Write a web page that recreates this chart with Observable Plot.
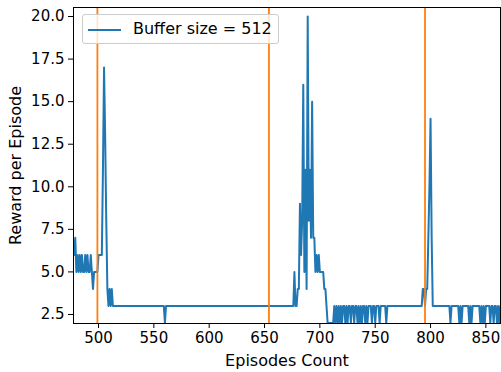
<!DOCTYPE html>
<html>
<head>
<meta charset="utf-8">
<script src="https://cdn.jsdelivr.net/npm/d3@7"></script>
<script src="https://cdn.jsdelivr.net/npm/@observablehq/plot@0.6"></script>
<style>
  html, body { margin: 0; padding: 0; background: #fff; }
  #wrap { position: relative; width: 501px; height: 372px; font-family: "DejaVu Sans", sans-serif; }
  #legend { position: absolute; left: 82px; top: 14px; width: 197px; height: 30px;
    border: 1px solid #cccccc; border-radius: 3px; background: rgba(255,255,255,0.8); box-sizing: border-box; }
  #legend .swatch { position: absolute; left: 5px; top: 14px; width: 33px; height: 0; border-top: 2px solid #1f77b4; }
  #legend .lbl { position: absolute; left: 50px; top: 4px; font-size: 16px; color: #000; white-space: nowrap; line-height: 20px; }
</style>
</head>
<body>
<div id="wrap"></div>
<script>
const seriesName = "Buffer size = 512";
const firstEpisode = 478;
// reward per episode, episodes 478..863
const rewards = [
  6,7,5,6,5,6,5,6,5,5,
  6,5,6,5,5,6,5,4,5,5,
  5,5,6,6,6,6,11,17,13,8,
  4,3,4,3,4,3,3,3,3,3,
  3,3,3,3,3,3,3,3,3,3,
  3,3,3,3,3,3,3,3,3,3,
  3,3,3,3,3,3,3,3,3,3,
  3,3,3,3,3,3,3,3,3,3,
  3,3,2,3,3,3,3,3,3,3,
  3,3,3,3,3,3,3,3,3,3,
  3,3,3,3,3,3,3,3,3,3,
  3,3,3,3,3,3,3,3,3,3,
  3,3,3,3,3,3,3,3,3,3,
  3,3,3,3,3,3,3,3,3,3,
  3,3,3,3,3,3,3,3,3,3,
  3,3,3,3,3,3,3,3,3,3,
  3,3,3,3,3,3,3,3,3,3,
  3,3,3,3,3,3,3,3,3,3,
  3,3,3,3,3,3,3,3,3,3,
  3,3,3,3,3,3,3,3,3,5,
  3,3,4,4,9,6,8,16,5,11,
  4,20,8,11,7,15,7,7,5,6,
  5,6,5,5,5,5,4,4,3,2,
  2,2,2,2,2,3,2,3,2,3,
  2,3,2,3,3,2,3,2,3,3,
  2,3,3,2,3,3,2,3,2,3,
  2,3,3,2,3,2,3,3,3,2,
  3,3,2,3,3,3,2,3,3,3,
  3,3,2,3,3,3,3,3,3,3,
  3,3,3,3,3,3,3,3,3,3,
  3,3,3,3,3,3,3,3,3,3,
  3,3,3,3,3,4,4,3,4,4,
  7,10,14,7,3,3,3,3,3,3,
  3,3,3,3,3,3,3,3,3,3,
  2,3,3,3,3,3,3,3,2,3,
  2,3,3,3,3,3,3,2,3,2,
  3,3,3,3,3,3,3,2,3,2,
  3,2,3,3,3,3,2,3,3,2,
  3,3,2,3,2,3
];
const markers = [499, 654, 795];
const xTicks = [500, 550, 600, 650, 700, 750, 800, 850];
const yTicks = [2.5, 5.0, 7.5, 10.0, 12.5, 15.0, 17.5, 20.0];
const xTitle = "Episodes Count";
const yTitle = "Reward per Episode";

const data = rewards.map((r, i) => ({episode: firstEpisode + i, reward: r}));

const chart = Plot.plot({
  width: 501,
  height: 372,
  marginLeft: 73,
  marginRight: 1,
  marginTop: 7,
  marginBottom: 49,
  style: {fontFamily: "DejaVu Sans, sans-serif", fontSize: "15px", color: "#000", background: "#fff"},
  x: {domain: [477.4, 863.2]},
  y: {domain: [1.97, 20.53]},
  marks: [
    Plot.line(data, {x: "episode", y: "reward", stroke: "#1f77b4", strokeWidth: 2}),
    Plot.ruleX(markers, {stroke: "#ff7f0e", strokeWidth: 1.8}),
    Plot.frame({stroke: "#000", strokeWidth: 1}),
    Plot.axisX({ticks: xTicks, tickSize: 5, tickPadding: 4, fontSize: 15, label: null, stroke: "#000"}),
    Plot.axisY({ticks: yTicks, tickSize: 5, tickPadding: 4, fontSize: 15, label: null, tickFormat: d3.format(".1f"), stroke: "#000"}),
    Plot.text([xTitle], {frameAnchor: "bottom", textAnchor: "middle", lineAnchor: "middle", dy: 37, fontSize: 16, fill: "#000"}),
    Plot.text([yTitle], {frameAnchor: "left", textAnchor: "middle", lineAnchor: "middle", dx: -58, rotate: -90, fontSize: 16, fill: "#000"})
  ]
});
const wrap = document.getElementById("wrap");
wrap.appendChild(chart);
const legend = document.createElement("div");
legend.id = "legend";
legend.innerHTML = '<div class="swatch"></div><div class="lbl"></div>';
legend.querySelector(".lbl").textContent = seriesName;
wrap.appendChild(legend);
</script>
</body>
</html>
